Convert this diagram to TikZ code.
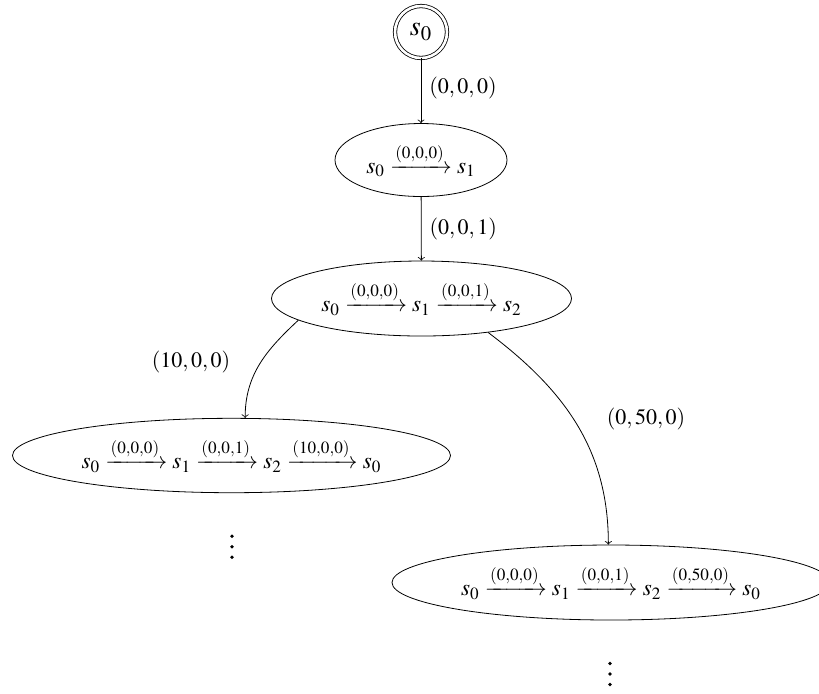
\documentclass[tikz,border=0pt]{standalone}
\usepackage{amsmath}
\usepackage{mathptmx}
\usetikzlibrary{shapes.geometric, arrows.meta}
\tikzset{
  initstate/.style={circle, draw, double, double distance=1.3pt, minimum size=26pt, inner sep=0pt,
    font=\fontsize{14}{16}\selectfont},
  runnode/.style={ellipse, draw, inner sep=0pt, font=\fontsize{11.6}{14}\selectfont},
  steplabel/.style={inner sep=4pt},
}

\begin{document}
\begin{tikzpicture}[x=0.5pt, y=-0.5pt, font=\fontsize{11}{13}\selectfont, >=to]
  \useasboundingbox (0,0) rectangle (819,693);
  % root and the runs below it
  \node[initstate] (r) at (421,32) {$s_0$};
  \node[runnode, minimum width=86pt, minimum height=36.5pt] (e1) at (421,160)
    {$s_0 \xrightarrow{(0,0,0)} s_1$};
  \node[runnode, minimum width=150pt, minimum height=37.5pt] (e2) at (421.5,298.5)
    {$s_0 \xrightarrow{(0,0,0)} s_1 \xrightarrow{(0,0,1)} s_2$};
  \node[runnode, minimum width=219pt, minimum height=37.2pt] (e3) at (231.5,455.5)
    {$s_0 \xrightarrow{(0,0,0)} s_1 \xrightarrow{(0,0,1)} s_2 \xrightarrow{(10,0,0)} s_0$};
  \node[runnode, minimum width=219pt, minimum height=37.5pt] (e4) at (611,582.5)
    {$s_0 \xrightarrow{(0,0,0)} s_1 \xrightarrow{(0,0,1)} s_2 \xrightarrow{(0,50,0)} s_0$};

  \draw[->] (r) -- (e1) node[steplabel, right, pos=0.45] {$(0,0,0)$};
  \draw[->] (e1) -- (e2) node[steplabel, right, pos=0.5] {$(0,0,1)$};
  \draw[->] (e2.190) to[out=223, in=90] (e3.70);
  \draw[->] (e2.333) to[out=-37, in=90] (e4.94);
  \node[steplabel] (l3) at (191,362) {$(10,0,0)$};
  \node[steplabel] (l4) at (646,419) {$(0,50,0)$};

  % runs go on
  \foreach \k in {-10.5,0,10.5} {
    \fill (232,546.7+\k) circle[radius=0.9pt];
    \fill (610,674+\k) circle[radius=0.9pt];
  }
\end{tikzpicture}
\end{document}
